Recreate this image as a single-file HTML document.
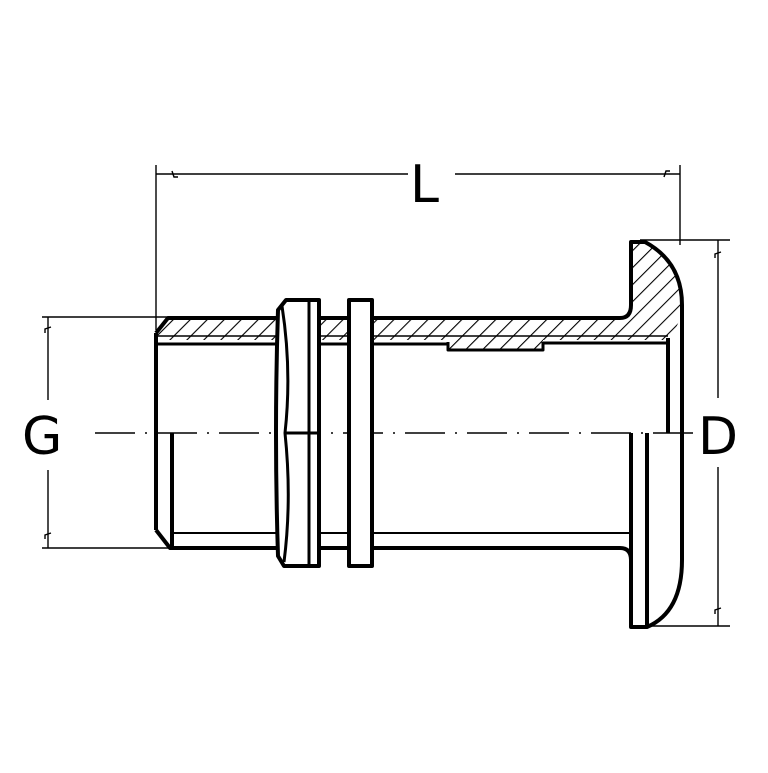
<!DOCTYPE html>
<html><head><style>html,body{margin:0;padding:0;background:#fff}</style></head><body>
<svg width="768" height="768" viewBox="0 0 768 768" xmlns="http://www.w3.org/2000/svg">
<defs>
<pattern id="h" patternUnits="userSpaceOnUse" width="12" height="12" patternTransform="rotate(45)">
<line x1="0" y1="0" x2="0" y2="12" stroke="#000" stroke-width="2.2"/>
</pattern>
</defs>
<rect width="768" height="768" fill="#fff"/>
<g stroke="#000" stroke-width="1.4" fill="none">
<line x1="156" y1="165" x2="156" y2="330"/>
<line x1="680" y1="165" x2="680" y2="245"/>
<line x1="156" y1="174" x2="408" y2="174"/>
<line x1="455" y1="174" x2="680" y2="174"/>
<path d="M172 171 L174 177 L178 177"/>
<path d="M664 177 L666 171 L670 171"/>
<line x1="42" y1="317" x2="170" y2="317"/>
<line x1="42" y1="548" x2="170" y2="548"/>
<line x1="48" y1="317" x2="48" y2="400"/>
<line x1="48" y1="470" x2="48" y2="548"/>
<path d="M51 327 L45 329 L45 333"/>
<path d="M51 533 L45 535 L45 539"/>
<line x1="640" y1="240" x2="730" y2="240"/>
<line x1="640" y1="626" x2="730" y2="626"/>
<line x1="718" y1="240" x2="718" y2="398"/>
<line x1="718" y1="467" x2="718" y2="626"/>
<path d="M721 252 L715 254 L715 258"/>
<path d="M721 608 L715 610 L715 614"/>
<line x1="95" y1="433" x2="700" y2="433" stroke-dasharray="40 10 2 10"/>
</g>
<path d="M156 333 L168 318 L620 318 Q631 318 631 305 L631 242 L645 242 Q682 262 682 305 Q682 322 668 340 L543 340 L543 350 L448 350 L448 340 L156 340 Z" fill="url(#h)"/>
<g stroke="#000" stroke-width="4" fill="none" stroke-linejoin="round">
<path d="M156 333 L168 318 L620 318 Q631 318 631 305 L631 242 L645 242 Q682 262 682 305 L682 560 Q682 612 647 627 L631 627 L631 433"/>
<line x1="156" y1="333" x2="156" y2="530"/>
<path d="M156 530 L170 548 L620 548 Q631 548 631 560"/>
<line x1="172" y1="433" x2="172" y2="548"/>
<line x1="647" y1="433" x2="647" y2="627"/>
<line x1="668" y1="338" x2="668" y2="433"/>
<line x1="156" y1="344" x2="448" y2="344" stroke-width="3"/>
<path d="M448 342 L448 350 L543 350 L543 342" stroke-width="3"/>
<line x1="543" y1="343" x2="668" y2="343" stroke-width="3"/>
<line x1="158" y1="336" x2="668" y2="336" stroke-width="1.5"/>
<line x1="172" y1="533" x2="631" y2="533" stroke-width="2"/>
<!-- nut -->
<path d="M286 300 L319 300 L319 566 L284 566 L278 556 Q274 433 278 310 Z" fill="#fff"/>
<line x1="309" y1="300" x2="309" y2="566" stroke-width="3"/>
<path d="M282 306 Q292 370 285 433 Q292 500 284 562" stroke-width="3"/>
<line x1="285" y1="433" x2="319" y2="433" stroke-width="3"/>
<rect x="349" y="300" width="23" height="266" fill="#fff"/>
</g>
<g font-family="DejaVu Sans, Liberation Sans, sans-serif" font-size="52" fill="#000">
<text x="410" y="202">L</text>
<text x="22" y="454">G</text>
<text x="698" y="454">D</text>
</g>
</svg>
</body></html>
